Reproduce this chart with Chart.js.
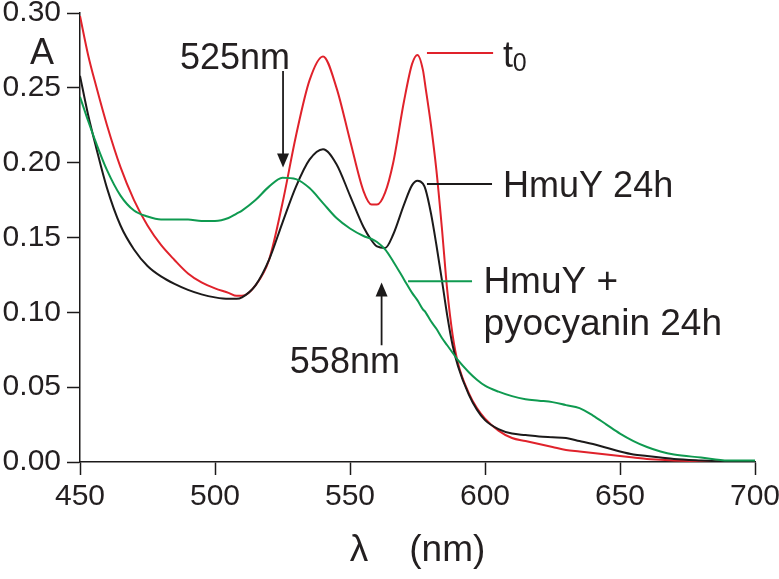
<!DOCTYPE html>
<html>
<head>
<meta charset="utf-8">
<script src="https://cdn.jsdelivr.net/npm/chart.js@4"></script>
<style>
  html, body { margin: 0; padding: 0; background: #fff; }
  canvas { display: block; }
</style>
</head>
<body>
<canvas id="chart" width="779" height="579"></canvas>
<script>
// wavelength (nm) and absorbance readings
const wavelengths = [
    450, 453, 456, 460, 465, 470, 475, 480, 485, 490,
    495, 500, 505, 508, 510, 515, 520, 525, 530, 535,
    540, 545, 550, 555, 558, 560, 563, 566, 570, 573,
    575, 577, 578, 580, 582, 584, 586, 588, 590, 594,
    597, 600, 605, 610, 615, 620, 625, 630, 635, 640,
    645, 650, 655, 660, 665, 670, 680, 690, 700
];

const t0 = [
    0.298, 0.272, 0.251, 0.225, 0.197, 0.175, 0.158, 0.145, 0.135, 0.126,
    0.120, 0.116, 0.113, 0.111, 0.111, 0.118, 0.135, 0.173, 0.218, 0.255,
    0.271, 0.250, 0.215, 0.181, 0.172, 0.172, 0.180, 0.200, 0.241, 0.266,
    0.272, 0.262, 0.250, 0.225, 0.195, 0.157, 0.115, 0.085, 0.066, 0.046,
    0.036, 0.029, 0.021, 0.016, 0.014, 0.012, 0.010, 0.008, 0.007, 0.006,
    0.005, 0.004, 0.003, 0.002, 0.0015, 0.001, 0.0005, 0.0002, 0
];

const hmuY24h = [
    0.258, 0.232, 0.210, 0.183, 0.158, 0.142, 0.131, 0.124, 0.119, 0.115,
    0.112, 0.110, 0.109, 0.109, 0.110, 0.118, 0.135, 0.160, 0.184, 0.202,
    0.209, 0.199, 0.178, 0.157, 0.148, 0.144, 0.143, 0.152, 0.172, 0.185,
    0.188, 0.186, 0.182, 0.166, 0.145, 0.122, 0.098, 0.078, 0.064, 0.045,
    0.035, 0.028, 0.022, 0.019, 0.018, 0.017, 0.0165, 0.016, 0.014, 0.012,
    0.0095, 0.007, 0.005, 0.004, 0.003, 0.002, 0.001, 0.0003, 0
];

const hmuYPyocyanin24h = [
    0.244, 0.228, 0.213, 0.195, 0.178, 0.168, 0.164, 0.162, 0.162, 0.162,
    0.161, 0.161, 0.163, 0.166, 0.168, 0.175, 0.184, 0.190, 0.189, 0.183,
    0.173, 0.163, 0.156, 0.151, 0.149, 0.147, 0.142, 0.134, 0.122, 0.113,
    0.108, 0.102, 0.100, 0.094, 0.089, 0.083, 0.078, 0.073, 0.068, 0.060,
    0.055, 0.051, 0.047, 0.044, 0.042, 0.041, 0.040, 0.038, 0.036, 0.031,
    0.025, 0.019, 0.014, 0.010, 0.007, 0.005, 0.003, 0.001, 0.001
];

const xTicks = [450, 500, 550, 600, 650, 700];
const yTicks = [0.00, 0.05, 0.10, 0.15, 0.20, 0.25, 0.30];

const RED = '#e0222b';
const BLACK = '#1c1a1a';
const GREEN = '#0f9a50';
const TEXT = '#231f20';

// labels, arrows and key lines, placed in data units
const texts = [
    { text: 'A', x: 431.5, y: 0.266, size: 36, align: 'left' },
    { text: '525nm', x: 507.4, y: 0.2627, size: 36, align: 'center' },
    { text: '558nm', x: 548.1, y: 0.0593, size: 36, align: 'center' },
    { text: 't', x: 606.7, y: 0.264, size: 36, align: 'left' },
    { text: '0', x: 610.3, y: 0.2613, size: 25, align: 'left' },
    { text: 'HmuY 24h', x: 606.7, y: 0.1773, size: 36, align: 'left' },
    { text: 'HmuY +', x: 599.4, y: 0.1127, size: 37, align: 'left' },
    { text: 'pyocyanin 24h', x: 599.4, y: 0.0847, size: 37, align: 'left' }
];

const arrows = [
    { x: 525.2, from: 0.2613, to: 0.1967 },
    { x: 561.7, from: 0.078, to: 0.120 }
];

const keyLines = [
    { x1: 578.5, x2: 603, y: 0.2733, color: RED },
    { x1: 578.5, x2: 602.6, y: 0.1857, color: BLACK },
    { x1: 571.5, x2: 595.2, y: 0.1207, color: GREEN }
];

function points(values) {
    return wavelengths.map((w, i) => ({ x: w, y: values[i] }));
}

const notesPlugin = {
    id: 'notes',
    afterDraw(chart) {
        const ctx = chart.ctx;
        const xs = chart.scales.x;
        const ys = chart.scales.y;
        ctx.save();

        keyLines.forEach(k => {
            ctx.strokeStyle = k.color;
            ctx.lineWidth = 2;
            ctx.beginPath();
            ctx.moveTo(xs.getPixelForValue(k.x1), ys.getPixelForValue(k.y));
            ctx.lineTo(xs.getPixelForValue(k.x2), ys.getPixelForValue(k.y));
            ctx.stroke();
        });

        arrows.forEach(a => {
            const px = xs.getPixelForValue(a.x);
            const y0 = ys.getPixelForValue(a.from);
            const y1 = ys.getPixelForValue(a.to);
            const dir = y1 > y0 ? 1 : -1;
            ctx.strokeStyle = BLACK;
            ctx.fillStyle = BLACK;
            ctx.lineWidth = 1.8;
            ctx.beginPath();
            ctx.moveTo(px, y0);
            ctx.lineTo(px, y1 - dir * 12);
            ctx.stroke();
            ctx.beginPath();
            ctx.moveTo(px, y1);
            ctx.lineTo(px - 6, y1 - dir * 14);
            ctx.lineTo(px + 6, y1 - dir * 14);
            ctx.closePath();
            ctx.fill();
        });

        ctx.fillStyle = TEXT;
        ctx.textBaseline = 'alphabetic';
        texts.forEach(t => {
            ctx.font = t.size + 'px "Liberation Sans", Arial, sans-serif';
            ctx.textAlign = t.align;
            ctx.fillText(t.text, xs.getPixelForValue(t.x), ys.getPixelForValue(t.y));
        });
        ctx.restore();
    }
};

Chart.defaults.font.family = '"Liberation Sans", Arial, sans-serif';
Chart.defaults.color = TEXT;

new Chart(document.getElementById('chart'), {
    type: 'line',
    data: {
        datasets: [
            { label: 'HmuY + pyocyanin 24h', data: points(hmuYPyocyanin24h), borderColor: GREEN },
            { label: 'HmuY 24h', data: points(hmuY24h), borderColor: BLACK },
            { label: 't0', data: points(t0), borderColor: RED }
        ].map(d => Object.assign(d, {
            borderWidth: 2,
            pointRadius: 0,
            fill: false,
            cubicInterpolationMode: 'monotone'
        }))
    },
    options: {
        responsive: false,
        animation: false,
        layout: { padding: { left: 0, right: 24, top: 13, bottom: 0 } },
        plugins: {
            legend: { display: false },
            tooltip: { enabled: false }
        },
        scales: {
            x: {
                type: 'linear',
                min: 450,
                max: 700,
                afterBuildTicks: s => { s.ticks = xTicks.map(v => ({ value: v })); },
                afterFit: s => { s.height = 117; s.paddingRight = 0; s.paddingLeft = 0; },
                ticks: {
                    font: { size: 30, lineHeight: 1 },
                    color: TEXT,
                    padding: 7,
                    maxRotation: 0
                },
                grid: {
                    drawOnChartArea: false,
                    drawTicks: true,
                    tickLength: 13,
                    tickColor: BLACK,
                    tickWidth: 1.5
                },
                border: { color: BLACK, width: 1.5 },
                title: {
                    display: true,
                    text: 'λ    (nm)',
                    color: TEXT,
                    font: { size: 37, lineHeight: 1.2 },
                    padding: { top: 0, bottom: 6 }
                }
            },
            y: {
                min: 0,
                max: 0.30,
                afterBuildTicks: s => { s.ticks = yTicks.map(v => ({ value: v })); },
                afterFit: s => { s.width = 80; s.paddingTop = 0; s.paddingBottom = 0; },
                ticks: {
                    font: { size: 30, lineHeight: 1 },
                    color: TEXT,
                    padding: 6,
                    callback: v => v.toFixed(2)
                },
                grid: {
                    drawOnChartArea: false,
                    drawTicks: true,
                    tickLength: 13,
                    tickColor: BLACK,
                    tickWidth: 1.5
                },
                border: { color: BLACK, width: 1.5 }
            }
        }
    },
    plugins: [notesPlugin]
});
</script>
</body>
</html>
